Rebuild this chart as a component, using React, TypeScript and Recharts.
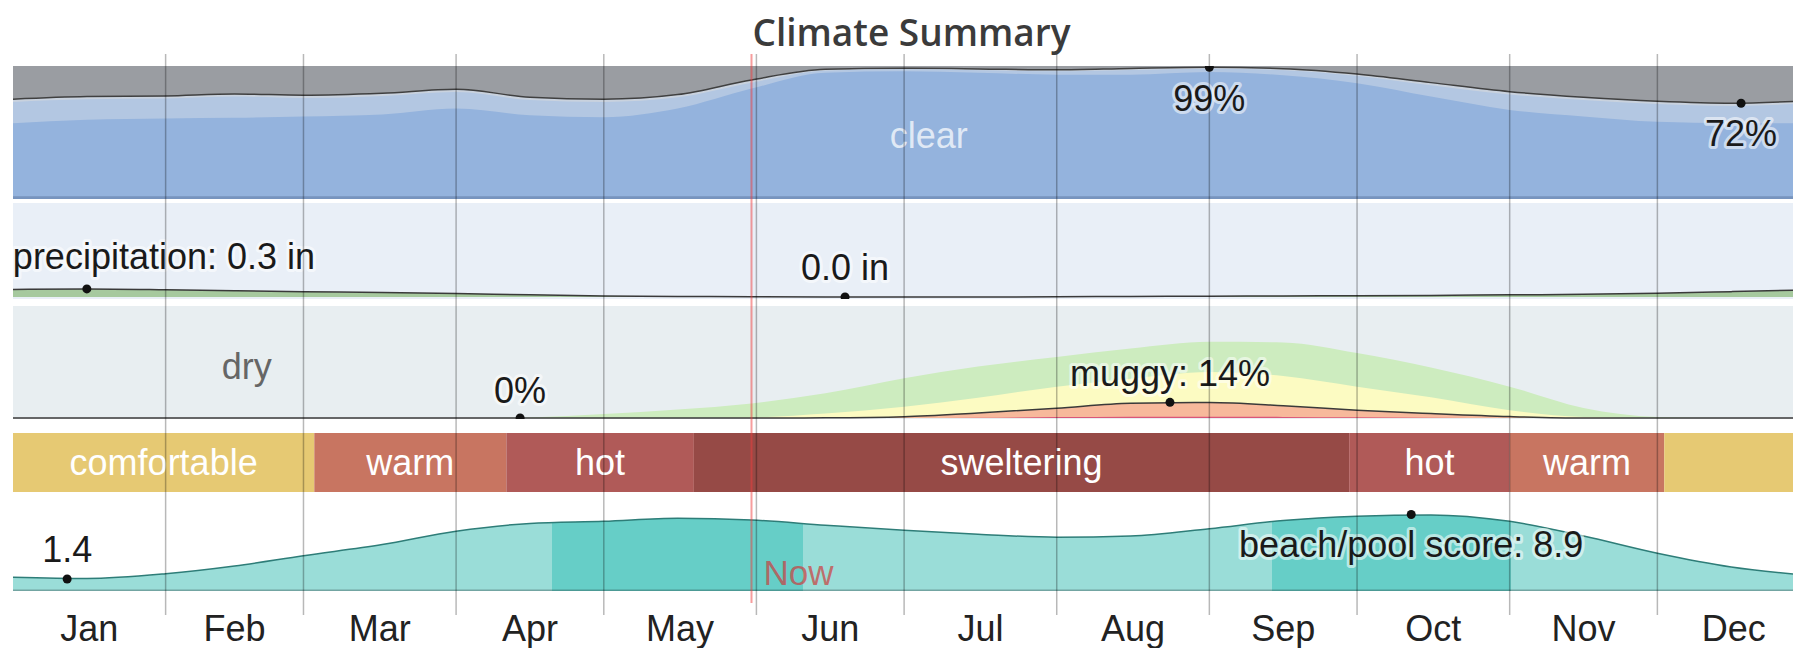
import React from 'react';
import {
  AreaChart,
  Area,
  BarChart,
  Bar,
  ComposedChart,
  Line,
  XAxis,
  YAxis,
  ReferenceLine,
  ReferenceDot,
  LabelList,
} from 'recharts';

// sample days of the year shared by the smooth bands
const days = [0, 15, 31, 45, 59, 75, 90, 105, 120, 135, 150, 165, 181, 196, 212, 227, 243, 258, 273, 288, 304, 319, 334, 349, 365];

// cloud cover, cumulative % of time from the bottom
const clearPct = [57, 59.5, 60.5, 61, 62, 63.5, 68, 63, 61.5, 68, 83, 95, 96, 95, 93.5, 93.5, 95.5, 93, 87, 77, 67, 62, 58, 57, 57];
const mostlyClearPct = [73, 75, 75.5, 77, 76, 77.5, 80.5, 74.5, 73, 76.5, 87.5, 96.5, 97.5, 96.8, 96, 97, 98, 96.8, 92.5, 85.5, 78.5, 74.5, 71.5, 70, 72];
const partlyCloudyPct = [75, 77, 77.5, 79, 78, 79.5, 82.5, 76.5, 75, 78.5, 89.5, 97.5, 98.3, 97.8, 97.2, 98.2, 99, 98, 94, 87.5, 80.7, 76.5, 73.5, 72, 74];

// precipitation, inches
const precipIn = [0.28, 0.3, 0.27, 0.23, 0.2, 0.17, 0.13, 0.08, 0.04, 0.02, 0.01, 0, 0, 0, 0.01, 0.02, 0.03, 0.04, 0.05, 0.06, 0.08, 0.1, 0.14, 0.2, 0.27];

// humidity comfort, % of time at that level or worse
const comfortablePct = [0, 0, 0, 0, 0, 0, 0, 0.5, 3.5, 7.5, 13, 22, 35.5, 46, 54.5, 62, 68, 67.5, 58, 45, 28, 9, 1, 0, 0];
const humidPct = [0, 0, 0, 0, 0, 0, 0, 0, 0, 0, 0.5, 4, 10, 18, 28, 35, 41, 37.5, 28, 18.5, 7, 1, 0, 0, 0];
const muggyPct = [0, 0, 0, 0, 0, 0, 0, 0, 0, 0, 0, 0.2, 1.2, 4.5, 8.7, 13.2, 13.8, 11, 7, 4, 1.3, 0, 0, 0, 0];
const oppressivePct = [0, 0, 0, 0, 0, 0, 0, 0, 0, 0, 0, 0, 0, 0.2, 0.8, 1.2, 1.2, 1, 0.6, 0.2, 0, 0, 0, 0, 0];

// beach/pool score 0-10
const beachScore = [1.6, 1.45, 2.0, 2.9, 4.1, 5.4, 6.95, 7.85, 8.1, 8.45, 8.25, 7.65, 7.05, 6.6, 6.25, 6.4, 7.25, 8.2, 8.7, 8.85, 8.1, 6.4, 4.4, 2.8, 1.8];
const beachBestFrom = [109.5, 255.7];
const beachBestTo = [160.4, 304.2];

// temperature bands
const tempStarts = [0, 61.2, 100.2, 138.3, 271.4, 304, 335.4];
const tempEnds = [61.2, 100.2, 138.3, 271.4, 304, 335.4, 365];
const tempNames = ['comfortable', 'warm', 'hot', 'sweltering', 'hot', 'warm', 'comfortable'];
const tempLabels = ['comfortable', 'warm', 'hot', 'sweltering', 'hot', 'warm', ''];

const months = ['Jan', 'Feb', 'Mar', 'Apr', 'May', 'Jun', 'Jul', 'Aug', 'Sep', 'Oct', 'Nov', 'Dec'];
const monthMid = [15.5, 45, 74.5, 105, 135.5, 166, 196.5, 227.5, 258, 288.5, 319, 349.5];
const monthStart = [31, 59, 90, 120, 151, 181, 212, 243, 273, 304, 334];
const nowDay = 150;

const FONT = '"Liberation Sans", Arial, Helvetica, sans-serif';
const FS = 36;
const PLOT_W = 1797; // day 0..365, the year runs past the right edge of the page
const FLAT = { top: 0, right: 0, bottom: 0, left: 0 };

const TEMP_COLORS: Record<string, string> = {
  comfortable: '#e6c973',
  warm: '#c87561',
  hot: '#b05a58',
  sweltering: '#964a46',
};

const cloudRows = days.map((day, i) => ({ day, clear: clearPct[i], mostlyClear: mostlyClearPct[i], partly: partlyCloudyPct[i] }));
const precipRows = days.map((day, i) => ({ day, precip: precipIn[i] }));
const humidRows = days.map((day, i) => ({
  day,
  comfortable: comfortablePct[i],
  humid: humidPct[i],
  muggy: muggyPct[i],
  oppressive: oppressivePct[i],
}));
const beachRows = days.map((day, i) => ({ day, score: beachScore[i] }));
const tempRow = [
  tempStarts.reduce<Record<string, any>>((row, start, i) => ({ ...row, ['s' + i]: tempEnds[i] - start }), { name: 'temp' }),
];

type MarkOpts = { dx?: number; anchor?: string; dot?: boolean; color?: string; halo?: string | null };

const mark = (text: string, dy: number, opts: MarkOpts = {}) => (p: any) => (
  <g>
    {opts.dot !== false && <circle cx={p.cx} cy={p.cy} r={4.5} fill="#111" />}
    <text
      x={p.cx + (opts.dx ?? 0)}
      y={p.cy + dy}
      textAnchor={opts.anchor ?? 'middle'}
      dominantBaseline="central"
      fontFamily={FONT}
      fontSize={FS}
      fill={opts.color ?? '#1a1a1a'}
      stroke={opts.halo === null ? 'none' : opts.halo ?? 'rgba(255,255,255,0.55)'}
      strokeWidth={6}
      strokeLinejoin="round"
      paintOrder="stroke"
    >
      {text}
    </text>
  </g>
);

const MonthTick = (p: any) => (
  <text x={p.x} y={p.y} dy={13} textAnchor="middle" dominantBaseline="central" fontFamily={FONT} fontSize={FS} fill="#222">
    {months[monthMid.indexOf(p.payload.value)]}
  </text>
);

const NowLabel = (p: any) => {
  const vb = p.viewBox;
  return (
    <text
      x={vb.x + 12}
      y={vb.y + vb.height - 31}
      dominantBaseline="central"
      fontFamily={FONT}
      fontSize={FS - 1}
      fill="rgba(205,60,60,0.7)"
    >
      Now
    </text>
  );
};

const Band = ({ top, height, bg, children }: { top: number; height: number; bg?: string; children: React.ReactNode }) => (
  <div style={{ position: 'absolute', left: 13, top, width: PLOT_W, height, background: bg }}>{children}</div>
);

const dayAxis = () => <XAxis type="number" dataKey="day" domain={[0, 365]} hide />;

export default function App() {
  return (
    <div style={{ position: 'fixed', left: 0, top: 0, width: 1793, height: 648, overflow: 'hidden', background: '#fff' }}>
      <div
        style={{
          position: 'absolute',
          left: 0,
          top: 10,
          width: 1823,
          textAlign: 'center',
          font: '600 37px "Open Sans", sans-serif',
          lineHeight: '44px',
          color: '#3b3b3b',
        }}
      >
        Climate Summary
      </div>

      {/* cloud cover */}
      <Band top={66} height={133} bg="#9a9da2">
        <AreaChart width={PLOT_W} height={133} data={cloudRows} margin={FLAT}>
          {dayAxis()}
          <YAxis type="number" domain={[0, 100]} hide />
          <Area type="monotone" dataKey="partly" stroke="#404040" strokeWidth={1.5} fill="#c9d2de" fillOpacity={1} isAnimationActive={false} />
          <Area type="monotone" dataKey="mostlyClear" stroke="none" fill="#b3c7e2" fillOpacity={1} isAnimationActive={false} />
          <Area type="monotone" dataKey="clear" stroke="none" fill="#94b3dd" fillOpacity={1} isAnimationActive={false} />
          <ReferenceLine y={1} stroke="rgba(20,40,80,0.22)" strokeWidth={3} />
          <ReferenceDot x={186} y={48} r={0} shape={mark('clear', 0, { dot: false, color: 'rgba(255,255,255,0.72)', halo: null })} />
          <ReferenceDot x={243} y={99} r={4} shape={mark('99%', 31)} />
          <ReferenceDot x={351} y={72} r={4} shape={mark('72%', 30)} />
        </AreaChart>
      </Band>

      {/* precipitation */}
      <Band top={203} height={96} bg="#e9eff7">
        <AreaChart width={PLOT_W} height={96} data={precipRows} margin={{ ...FLAT, bottom: 2 }}>
          {dayAxis()}
          <YAxis type="number" domain={[0, 3.5]} hide />
          <Area type="monotone" dataKey="precip" stroke="#3a3a3a" strokeWidth={1.5} fill="#a6c99e" fillOpacity={1} isAnimationActive={false} />
          <ReferenceDot x={15} y={0.3} r={4} shape={mark('precipitation: 0.3 in', -32, { dx: -74, anchor: 'start' })} />
          <ReferenceDot x={169} y={0} r={4} shape={mark('0.0 in', -30)} />
        </AreaChart>
      </Band>

      {/* humidity comfort */}
      <Band top={306} height={113} bg="#e8eef1">
        <AreaChart width={PLOT_W} height={113} data={humidRows} margin={{ ...FLAT, bottom: 1 }}>
          {dayAxis()}
          <YAxis type="number" domain={[0, 100]} hide />
          <Area type="monotone" dataKey="comfortable" stroke="none" fill="#cdecbf" fillOpacity={1} isAnimationActive={false} />
          <Area type="monotone" dataKey="humid" stroke="none" fill="#fcfbc2" fillOpacity={1} isAnimationActive={false} />
          <Area type="monotone" dataKey="muggy" stroke="#3a3a3a" strokeWidth={1.5} fill="#f7b99b" fillOpacity={1} isAnimationActive={false} />
          <Area type="monotone" dataKey="oppressive" stroke="none" fill="#d9577a" fillOpacity={1} isAnimationActive={false} />
          <ReferenceDot x={47.5} y={46} r={0} shape={mark('dry', 0, { dot: false, color: '#666', halo: null })} />
          <ReferenceDot x={103} y={0} r={4} shape={mark('0%', -28)} />
          <ReferenceDot x={235} y={14} r={4} shape={mark('muggy: 14%', -29)} />
        </AreaChart>
      </Band>

      {/* temperature */}
      <Band top={433} height={59}>
        <BarChart layout="vertical" width={PLOT_W} height={59} data={tempRow} margin={FLAT} barCategoryGap={0}>
          <XAxis type="number" domain={[0, 365]} hide />
          <YAxis type="category" dataKey="name" hide />
          {tempNames.map((name, i) => (
            <Bar key={i} dataKey={'s' + i} stackId="t" fill={TEMP_COLORS[name]} isAnimationActive={false}>
              <LabelList
                dataKey={'s' + i}
                position="center"
                formatter={() => tempLabels[i]}
                fill="#fff"
                fontSize={FS}
                fontFamily={FONT}
              />
            </Bar>
          ))}
        </BarChart>
      </Band>

      {/* beach / pool score */}
      <Band top={505} height={87}>
        <AreaChart width={PLOT_W} height={87} data={beachRows} margin={{ ...FLAT, bottom: 1 }}>
          <defs>
            <linearGradient id="beachFill" x1="0" y1="0" x2="1" y2="0">
              <stop offset={0} stopColor="#9addd8" />
              {beachBestFrom.map((from, i) => (
                <React.Fragment key={i}>
                  <stop offset={from / 365} stopColor="#9addd8" />
                  <stop offset={from / 365} stopColor="#66cec7" />
                  <stop offset={beachBestTo[i] / 365} stopColor="#66cec7" />
                  <stop offset={beachBestTo[i] / 365} stopColor="#9addd8" />
                </React.Fragment>
              ))}
              <stop offset={1} stopColor="#9addd8" />
            </linearGradient>
          </defs>
          {dayAxis()}
          <YAxis type="number" domain={[0, 10]} hide />
          <Area type="monotone" dataKey="score" stroke="#2e7d78" strokeWidth={1.5} fill="url(#beachFill)" fillOpacity={1} isAnimationActive={false} />
          <ReferenceLine y={0.1} stroke="rgba(0,0,0,0.25)" strokeWidth={1.5} />
          <ReferenceDot x={11} y={1.4} r={4} shape={mark('1.4', -29)} />
          <ReferenceDot x={284} y={8.9} r={4} shape={mark('beach/pool score: 8.9', 30)} />
        </AreaChart>
      </Band>

      {/* month grid and labels */}
      <Band top={0} height={648}>
        <ComposedChart width={PLOT_W} height={648} data={beachRows} margin={{ top: 54, right: 0, bottom: 32, left: 0 }}>
          <XAxis
            type="number"
            dataKey="day"
            domain={[0, 365]}
            ticks={monthMid}
            interval={0}
            height={1}
            tickSize={0}
            tickMargin={0}
            axisLine={false}
            tickLine={false}
            tick={MonthTick}
          />
          <YAxis hide domain={[0, 10]} />
          <Line dataKey="score" stroke="none" dot={false} activeDot={false} isAnimationActive={false} />
          {monthStart.map((d) => (
            <ReferenceLine key={d} x={d} stroke="rgba(0,0,0,0.28)" strokeWidth={1.5} />
          ))}
        </ComposedChart>
      </Band>

      {/* now marker */}
      <Band top={0} height={648}>
        <ComposedChart width={PLOT_W} height={648} data={beachRows} margin={{ top: 54, right: 0, bottom: 45, left: 0 }}>
          {dayAxis()}
          <YAxis hide domain={[0, 10]} />
          <Line dataKey="score" stroke="none" dot={false} activeDot={false} isAnimationActive={false} />
          <ReferenceLine x={nowDay} stroke="rgba(240,60,60,0.5)" strokeWidth={2} label={NowLabel} />
        </ComposedChart>
      </Band>
    </div>
  );
}
